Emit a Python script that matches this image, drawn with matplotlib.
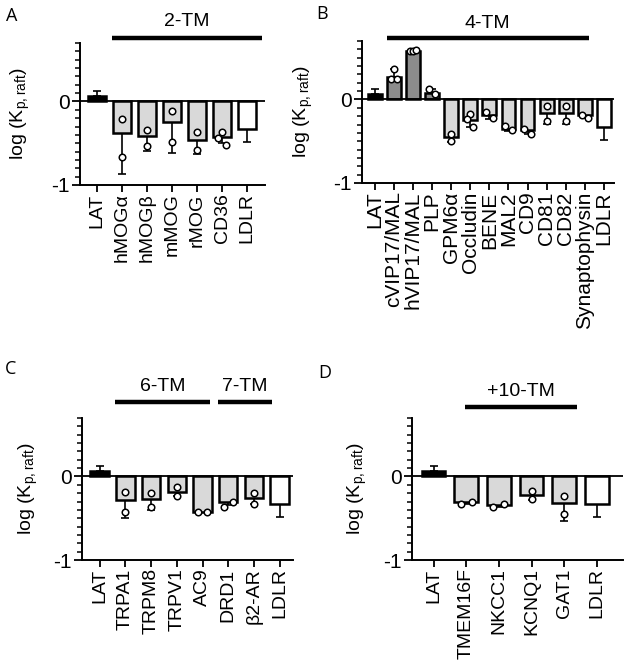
import numpy as np
import matplotlib.pyplot as plt
from matplotlib.ticker import MultipleLocator

plt.rcParams['font.family'] = ['Liberation Sans', 'DejaVu Sans']

# colours
BLACK = '#000000'
LIGHT = '#d9d9d9'
DARK = '#8c8c8c'
WHITE = '#ffffff'

# ---- panel A : 2-TM
names_a = ['LAT', 'hMOGα', 'hMOGβ', 'mMOG', 'rMOG', 'CD36', 'LDLR']
mean_a = [0.06, -0.38, -0.41, -0.25, -0.46, -0.43, -0.33]
err_a = [0.06, 0.49, 0.18, 0.37, 0.17, 0.07, 0.16]
pts_a = [[], [-0.21, -0.66], [-0.34, -0.53], [-0.11, -0.48], [-0.37, -0.58],
         [-0.37, -0.44, -0.52], []]
col_a = [BLACK, LIGHT, LIGHT, LIGHT, LIGHT, LIGHT, WHITE]

# ---- panel B : 4-TM
names_b = ['LAT', 'cVIP17/MAL', 'hVIP17/MAL', 'PLP', 'GPM6α', 'Occludin', 'BENE',
           'MAL2', 'CD9', 'CD81', 'CD82', 'Synaptophysin', 'LDLR']
mean_b = [0.07, 0.27, 0.58, 0.08, -0.45, -0.25, -0.19, -0.35, -0.37, -0.16,
          -0.16, -0.19, -0.33]
err_b = [0.06, 0.09, 0.01, 0.04, 0.06, 0.08, 0.04, 0.03, 0.04, 0.13, 0.13, 0.03, 0.15]
pts_b = [[], [0.36, 0.24, 0.24], [0.58, 0.58, 0.59], [0.12, 0.06], [-0.41, -0.5],
         [-0.17, -0.23, -0.33], [-0.15, -0.22], [-0.32, -0.37], [-0.35, -0.41],
         [-0.08, -0.26], [-0.08, -0.26], [-0.18, -0.22], []]
col_b = [BLACK, DARK, DARK, DARK, LIGHT, LIGHT, LIGHT, LIGHT, LIGHT, LIGHT, LIGHT,
         LIGHT, WHITE]

# ---- panel C : 6-TM / 7-TM
names_c = ['LAT', 'TRPA1', 'TRPM8', 'TRPV1', 'AC9', 'DRD1', 'β2-AR', 'LDLR']
mean_c = [0.06, -0.28, -0.27, -0.18, -0.42, -0.3, -0.26, -0.33]
err_c = [0.06, 0.22, 0.13, 0.05, 0.01, 0.04, 0.07, 0.16]
pts_c = [[], [-0.19, -0.43], [-0.2, -0.37], [-0.13, -0.23], [-0.42, -0.42],
         [-0.36, -0.3], [-0.2, -0.33], []]
col_c = [BLACK, LIGHT, LIGHT, LIGHT, LIGHT, LIGHT, LIGHT, WHITE]

# ---- panel D : +10-TM
names_d = ['LAT', 'TMEM16F', 'NKCC1', 'KCNQ1', 'GAT1', 'LDLR']
mean_d = [0.06, -0.31, -0.34, -0.22, -0.32, -0.33]
err_d = [0.06, 0.02, 0.03, 0.06, 0.21, 0.15]
pts_d = [[], [-0.33, -0.3], [-0.37, -0.33], [-0.27, -0.17], [-0.23, -0.45], []]
col_d = [BLACK, LIGHT, LIGHT, LIGHT, LIGHT, WHITE]

W, H = 625, 671
fig = plt.figure(figsize=(6.25, 6.71), dpi=100)


def rect(l, r, t, b):
    return [l / W, 1 - b / H, (r - l) / W, (b - t) / H]


def panel(box, letter, letter_xy, ylab_x, names, means, errs, pts, cols, groups,
          xpad, line_y, text_y, xfs=14):
    ax = fig.add_axes(rect(*box))
    x = np.arange(len(names))
    ax.bar(x, means, width=0.72, color=cols, edgecolor='black', linewidth=1.8, zorder=2)
    lo = [0 if m >= 0 else e for m, e in zip(means, errs)]
    hi = [e if m >= 0 else 0 for m, e in zip(means, errs)]
    ax.errorbar(x, means, yerr=[lo, hi], fmt='none', ecolor='black', elinewidth=1.2,
                capsize=3, capthick=1.2, zorder=1)
    for i, p in enumerate(pts):
        if not p:
            continue
        p = np.array(p)
        off = np.zeros(len(p))
        if len(p) > 1 and np.ptp(p) < 0.09:
            off = np.linspace(-0.17, 0.17, len(p))
        elif len(p) == 3:
            off = np.array([0, -0.15, 0.15])
        ax.scatter(x[i] + off, p, s=22, facecolor='white', edgecolor='black',
                   linewidth=1.1, zorder=4)
    ax.axhline(0, color='black', linewidth=1.3, zorder=3)
    ax.set_xlim(-xpad[0], len(names) - 1 + xpad[1])
    ax.set_ylim(-1, 0.7)
    ax.set_yticks([-1, 0])
    ax.set_yticklabels(['-1', '0'], fontsize=15)
    ax.yaxis.set_minor_locator(MultipleLocator(0.1))
    ax.tick_params(axis='y', which='major', length=6, width=1.3, pad=1.5)
    ax.tick_params(axis='y', which='minor', length=3.5, width=1.1)
    ax.set_xticks(x)
    ax.set_xticklabels(names, rotation=90, fontsize=xfs)
    ax.tick_params(axis='x', length=5, width=1.3, pad=1)
    for s in ['top', 'right']:
        ax.spines[s].set_visible(False)
    for s in ['left', 'bottom']:
        ax.spines[s].set_linewidth(1.4)
    yc = 1 - (box[2] + box[3]) / 2 / H
    fig.text(ylab_x / W, yc, 'log (K$_{\\mathregular{p,raft}}$)', fontsize=14,
             rotation=90, ha='center', va='center')
    for lab, a, b in groups:
        ax.plot([a, b], [line_y, line_y], color='black', linewidth=3.2,
                transform=ax.get_xaxis_transform(), clip_on=False, solid_capstyle='butt')
        ax.text((a + b) / 2, text_y, lab, fontsize=14, ha='center', va='center',
                transform=ax.get_xaxis_transform())
    fig.text(letter_xy[0] / W, 1 - letter_xy[1] / H, letter, fontsize=13,
             ha='left', va='center', family=['Open Sans', 'DejaVu Sans'])
    return ax


panel((80, 265, 43, 185), 'A', (6, 16), 20, names_a, mean_a, err_a, pts_a, col_a,
      [('2-TM', 0.6, 6.6)], (0.68, 0.72), 1.035, 1.148)
panel((362, 614, 41, 183), 'B', (316, 14), 303, names_b, mean_b, err_b, pts_b, col_b,
      [('4-TM', 0.63, 11.2)], (0.66, 0.52), 1.02, 1.12, xfs=15)
panel((82, 293, 418, 560), 'C', (5, 369), 28, names_c, mean_c, err_c, pts_c, col_c,
      [('6-TM', 0.6, 4.3), ('7-TM', 4.6, 6.7)], (0.69, 0.52), 1.11, 1.225)
panel((412, 623, 418, 560), 'D', (318, 373), 357, names_d, mean_d, err_d, pts_d, col_d,
      [('+10-TM', 0.97, 4.4)], (0.66, 0.8), 1.08, 1.19)

fig.savefig('out.png', dpi=100)
